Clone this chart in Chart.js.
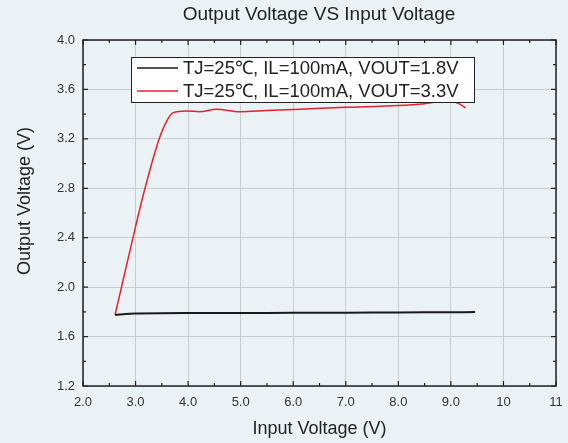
<!DOCTYPE html>
<html>
<head>
<meta charset="utf-8">
<script src="https://cdn.jsdelivr.net/npm/chart.js@4"></script>
<style>
  html, body { margin: 0; padding: 0; background: #ebf2f6; }
  #wrap { width: 568px; height: 443px; }
</style>
</head>
<body>
<div id="wrap"><canvas id="vChart" width="568" height="443"></canvas></div>
<script>
// Input voltage (x) and output voltage (y)
const blackX = [2.61, 3.0, 4.0, 5.0, 6.0, 7.0, 8.0, 9.0, 9.46];
const blackY = [1.775, 1.786, 1.79, 1.791, 1.792, 1.793, 1.795, 1.797, 1.798];
const redX = [2.61, 3.0, 3.18, 3.45, 3.6, 3.71, 3.97, 4.22, 4.54, 4.98, 5.5, 6.13, 7.0, 8.0, 8.5, 8.8, 9.03, 9.15, 9.28];
const redY = [1.775, 2.49, 2.80, 3.20, 3.35, 3.41, 3.425, 3.42, 3.44, 3.42, 3.43, 3.44, 3.455, 3.47, 3.485, 3.50, 3.50, 3.485, 3.45];
const seriesLabels = ['TJ=25\u2103, IL=100mA, VOUT=1.8V', 'TJ=25\u2103, IL=100mA, VOUT=3.3V'];
const xTicks = [2, 3, 4, 5, 6, 7, 8, 9, 10, 11];
const yTicks = [1.2, 1.6, 2.0, 2.4, 2.8, 3.2, 3.6, 4.0];

const FONT = '"Liberation Sans", Arial, sans-serif';

function toPoints(xs, ys) {
    return xs.map((x, i) => ({ x: x, y: ys[i] }));
}

// frame, inward ticks, title, y title and boxed legend
const framePlugin = {
    id: 'frame',
    beforeDraw(chart) {
        const ctx = chart.ctx;
        ctx.save();
        ctx.fillStyle = '#ebf2f6';
        ctx.fillRect(0, 0, chart.width, chart.height);
        ctx.restore();
    },
    afterDraw(chart) {
        const ctx = chart.ctx;
        const a = chart.chartArea;
        const xs = chart.scales.x, ys = chart.scales.y;
        ctx.save();
        ctx.strokeStyle = '#222';
        ctx.lineWidth = 1.5;
        ctx.strokeRect(a.left, a.top, a.right - a.left, a.bottom - a.top);

        ctx.lineWidth = 1.2;
        ctx.beginPath();
        for (let v = 2; v <= 11.001; v += 0.5) {
            const px = xs.getPixelForValue(v);
            const len = Math.abs(v - Math.round(v)) < 0.01 ? 5 : 3;
            ctx.moveTo(px, a.bottom); ctx.lineTo(px, a.bottom - len);
            ctx.moveTo(px, a.top); ctx.lineTo(px, a.top + len);
        }
        for (let v = 1.2; v <= 4.001; v += 0.2) {
            const py = ys.getPixelForValue(v);
            const major = Math.round(v * 10) % 4 === 0;
            const len = major ? 5 : 3;
            ctx.moveTo(a.left, py); ctx.lineTo(a.left + len, py);
            ctx.moveTo(a.right, py); ctx.lineTo(a.right - len, py);
        }
        ctx.stroke();

        // chart title
        ctx.fillStyle = '#222';
        ctx.font = '19px ' + FONT;
        ctx.textAlign = 'center';
        ctx.textBaseline = 'middle';
        ctx.fillText('Output Voltage VS Input Voltage', 319, 15);

        // y axis title
        ctx.save();
        ctx.translate(25, 201);
        ctx.rotate(-Math.PI / 2);
        ctx.font = '18px ' + FONT;
        ctx.fillText('Output Voltage (V)', 0, 0);
        ctx.restore();

        // legend box
        const bx = 131, by = 57, bw = 343, bh = 45;
        ctx.fillStyle = '#ffffff';
        ctx.fillRect(bx, by, bw, bh);
        ctx.strokeStyle = '#222';
        ctx.lineWidth = 1;
        ctx.strokeRect(bx + 0.5, by + 0.5, bw, bh);
        const colors = ['#1a1a1a', '#e8202e'];
        const rowsY = [68, 91];
        ctx.font = '18.5px ' + FONT;
        ctx.textAlign = 'left';
        for (let i = 0; i < 2; i++) {
            ctx.strokeStyle = colors[i];
            ctx.lineWidth = 1.5;
            ctx.beginPath();
            ctx.moveTo(137, rowsY[i]); ctx.lineTo(178, rowsY[i]);
            ctx.stroke();
            ctx.fillStyle = '#222';
            ctx.fillText(seriesLabels[i], 183, rowsY[i] + 1);
        }
        ctx.restore();
    }
};

const ctx = document.getElementById('vChart').getContext('2d');
new Chart(ctx, {
    type: 'line',
    data: {
        datasets: [
            {
                label: seriesLabels[0],
                data: toPoints(blackX, blackY),
                borderColor: '#1a1a1a',
                borderWidth: 2,
                pointRadius: 0,
                tension: 0.2
            },
            {
                label: seriesLabels[1],
                data: toPoints(redX, redY),
                borderColor: '#e8202e',
                borderWidth: 1.5,
                pointRadius: 0,
                cubicInterpolationMode: 'monotone'
            }
        ]
    },
    options: {
        responsive: false,
        animation: false,
        layout: { padding: { top: 40, right: 12, bottom: 0, left: 0 } },
        plugins: {
            legend: { display: false },
            tooltip: { enabled: false }
        },
        scales: {
            x: {
                type: 'linear',
                min: 2,
                max: 11,
                afterBuildTicks: s => { s.ticks = xTicks.map(v => ({ value: v })); },
                afterFit: s => { s.height = 57; s.paddingLeft = 0; s.paddingRight = 0; },
                grid: { color: '#c9cdd0', drawTicks: false },
                border: { display: false },
                ticks: {
                    padding: 9,
                    color: '#333',
                    font: { size: 13, family: FONT },
                    callback: v => v < 10 ? v.toFixed(1) : String(v)
                },
                title: {
                    display: true,
                    text: 'Input Voltage (V)',
                    color: '#222',
                    font: { size: 18, family: FONT },
                    padding: { top: 0, bottom: 3 }
                }
            },
            y: {
                min: 1.2,
                max: 4.0,
                afterBuildTicks: s => { s.ticks = yTicks.map(v => ({ value: v })); },
                afterFit: s => { s.width = 83; },
                grid: { color: '#c9cdd0', drawTicks: false },
                border: { display: false },
                ticks: {
                    padding: 8,
                    color: '#333',
                    font: { size: 13, family: FONT },
                    callback: v => v.toFixed(1)
                },
                title: { display: false }
            }
        }
    },
    plugins: [framePlugin]
});
</script>
</body>
</html>
